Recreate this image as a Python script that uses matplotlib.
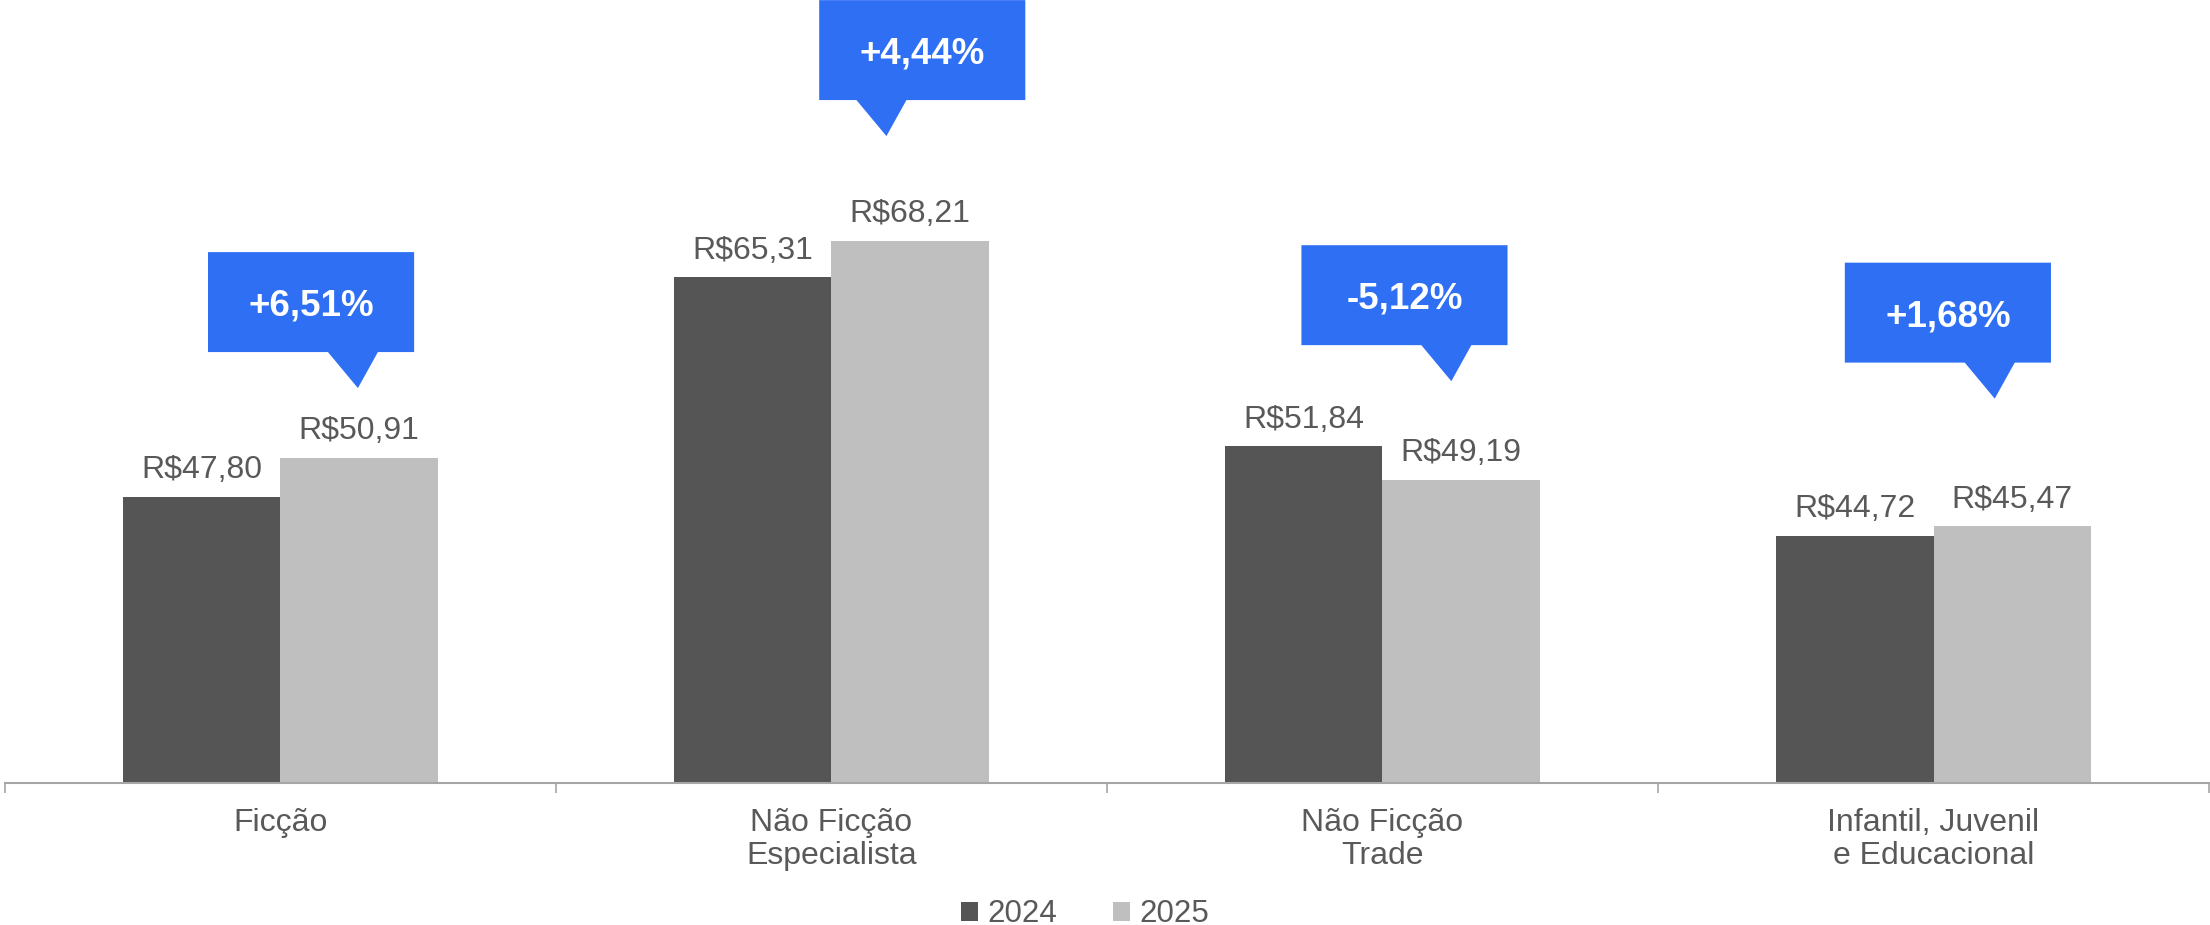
import matplotlib
matplotlib.use("Agg")
import matplotlib.pyplot as plt
from matplotlib.patches import Polygon, Patch

plt.rcParams['font.family'] = ['Liberation Sans', 'DejaVu Sans']

# Data
categories = ['Ficção', 'Não Ficção\nEspecialista', 'Não Ficção\nTrade', 'Infantil, Juvenil\ne Educacional']
values_2024 = [47.80, 65.31, 51.84, 44.72]
values_2025 = [50.91, 68.21, 49.19, 45.47]
changes = ['+6,51%', '+4,44%', '-5,12%', '+1,68%']

# Callout layout (box centre x in category units, box bottom in data units, tip offset)
callout_x = [0.056, 1.165, 2.040, 3.026]
callout_bottom = [59.36, 79.43, 59.91, 58.52]
callout_tip_dx = [0.085, -0.065, 0.085, 0.085]

dark = '#555555'
light = '#bfbfbf'
blue = '#2e6ff4'
text_color = '#595959'
axis_color = '#a6a6a6'

fig = plt.figure(figsize=(22.1, 9.25), dpi=100)
ax = fig.add_axes([0.0021, 0.153, 0.9975, 0.847])

width = 0.286
x = list(range(len(categories)))
bars1 = ax.bar([i - width / 2 for i in x], values_2024, width, color=dark, label='2024')
bars2 = ax.bar([i + width / 2 for i in x], values_2025, width, color=light, label='2025')

ax.set_xlim(-0.5, len(categories) - 0.5)
ax.set_ylim(25, 87.4)

# value labels
for bars, vals in [(bars1, values_2024), (bars2, values_2025)]:
    for b, v in zip(bars, vals):
        ax.annotate(f'R${v:.2f}'.replace('.', ','),
                    (b.get_x() + b.get_width() / 2, v),
                    xytext=(0, 13.5), textcoords='offset points',
                    ha='center', va='baseline', fontsize=23, color=text_color)

# callouts
half_w = 0.187
box_h = 7.96
ptr_h = 2.87
for cx, yb, dx, lab in zip(callout_x, callout_bottom, callout_tip_dx, changes):
    tip = cx + dx
    pts = [(cx - half_w, yb), (tip - 0.0544, yb), (tip, yb - ptr_h), (tip + 0.0363, yb),
           (cx + half_w, yb), (cx + half_w, yb + box_h), (cx - half_w, yb + box_h)]
    ax.add_patch(Polygon(pts, closed=True, facecolor=blue, edgecolor='none',
                         clip_on=False, zorder=5))
    ax.text(cx, yb + box_h / 2, lab, ha='center', va='center_baseline',
            fontsize=26.5, fontweight='bold', color='white', zorder=6, clip_on=False)

# axes styling
for s in ['top', 'right', 'left']:
    ax.spines[s].set_visible(False)
ax.spines['bottom'].set_color(axis_color)
ax.spines['bottom'].set_linewidth(1.5)
ax.set_yticks([])

ax.set_xticks([i - 0.5 for i in range(len(categories) + 1)])
ax.set_xticklabels([])
ax.tick_params(axis='x', which='major', length=7.2, width=1.2, color=axis_color)
ax.set_xticks(x, minor=True)
ax.set_xticklabels(categories, minor=True, fontsize=23, color=text_color, linespacing=1.12)
ax.tick_params(axis='x', which='minor', length=0, pad=18)

handles = [Patch(facecolor=dark, label='2024'), Patch(facecolor=light, label='2025')]
fig.legend(handles=handles, loc='lower center', bbox_to_anchor=(0.491, -0.035), ncol=2,
           frameon=False, fontsize=22.5, handlelength=0.55, handleheight=0.55,
           handletextpad=0.3, columnspacing=1.8, labelcolor=text_color)

fig.savefig('out.png', dpi=100)
